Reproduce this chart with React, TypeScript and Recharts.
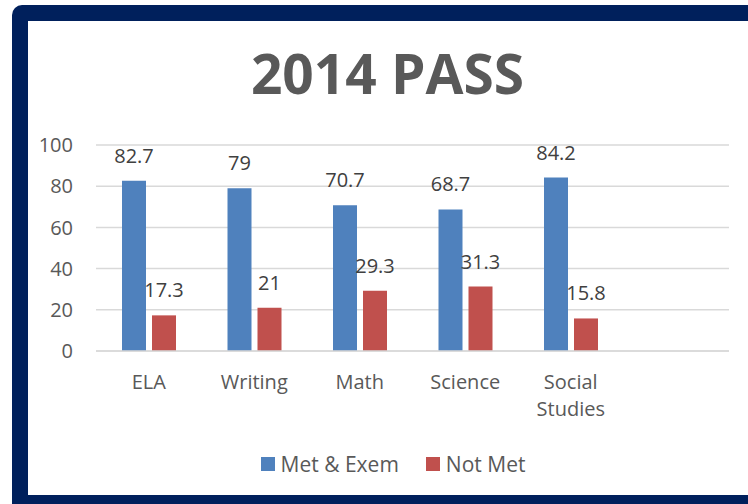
import { BarChart, Bar, XAxis, YAxis, CartesianGrid, Legend, LabelList, Text } from 'recharts';

const categories = ['ELA', 'Writing', 'Math', 'Science', 'Social Studies', ''];
const metExem = [82.7, 79, 70.7, 68.7, 84.2, null];
const notMet = [17.3, 21, 29.3, 31.3, 15.8, null];
const yTicks = [0, 20, 40, 60, 80, 100];

const data = categories.map((name, i) => ({ name, met: metExem[i], notMet: notMet[i] }));

const FONT = '"Open Sans", "Noto Sans", sans-serif';
const NAVY = '#00205C';
const BLUE = '#4F81BD';
const RED = '#C0504D';

const legendItems = [
  { label: 'Met & Exem', color: BLUE },
  { label: 'Not Met', color: RED },
];

function CategoryTick(props: any) {
  const { x, y, payload } = props;
  return (
    <Text
      x={x}
      y={y}
      width={90}
      textAnchor="middle"
      verticalAnchor="start"
      lineHeight={27}
      fill="#595959"
      fontSize={20}
      fontFamily={FONT}
    >
      {payload.value}
    </Text>
  );
}

function LegendContent() {
  return (
    <div style={{ display: 'flex', justifyContent: 'center', gap: 27, fontFamily: FONT, fontSize: 21, color: '#595959' }}>
      {legendItems.map((it) => (
        <div key={it.label} style={{ display: 'flex', alignItems: 'center' }}>
          <span style={{ width: 14, height: 14, background: it.color, display: 'inline-block', marginRight: 6 }} />
          {it.label}
        </div>
      ))}
    </div>
  );
}

export default function App() {
  return (
    <div style={{ position: 'fixed', left: 0, top: 0, width: 748, height: 504, overflow: 'hidden', background: '#fff' }}>
      {/* navy frame, right edge runs off the picture */}
      <div style={{ position: 'absolute', left: 12, top: 5, width: 800, height: 540, background: NAVY, borderRadius: 10 }} />
      <div style={{ position: 'absolute', left: 28, top: 21, width: 790, height: 474, background: '#fff' }} />
      <div
        style={{
          position: 'absolute',
          left: 0,
          width: 775,
          top: 45,
          textAlign: 'center',
          fontFamily: FONT,
          fontWeight: 700,
          fontSize: 55,
          lineHeight: 1,
          color: '#595959',
        }}
      >
        2014 PASS
      </div>
      <div style={{ position: 'absolute', left: 0, top: 0 }}>
        <BarChart
          width={748}
          height={504}
          data={data}
          margin={{ top: 145, right: 19, bottom: 65, left: 36 }}
          barGap={6}
          barSize={24}
        >
          <CartesianGrid vertical={false} stroke="#D9D9D9" strokeWidth={1.5} />
          <XAxis
            dataKey="name"
            axisLine={{ stroke: '#D9D9D9', strokeWidth: 1.5 }}
            tickLine={false}
            tickMargin={18}
            height={60}
            interval={0}
            tick={<CategoryTick />}
          />
          <YAxis
            domain={[0, 100]}
            ticks={yTicks}
            width={60}
            axisLine={false}
            tickLine={false}
            tickMargin={17}
            tick={{ fill: '#595959', fontSize: 20, fontFamily: FONT }}
          />
          <Legend
            verticalAlign="bottom"
            content={<LegendContent />}
            wrapperStyle={{ top: 450, left: 19, width: 748 }}
          />
          <Bar dataKey="met" fill={BLUE} isAnimationActive={false}>
            <LabelList dataKey="met" position="top" offset={18} fill="#404040" fontSize={20} fontFamily={FONT} />
          </Bar>
          <Bar dataKey="notMet" fill={RED} isAnimationActive={false}>
            <LabelList dataKey="notMet" position="top" offset={18} fill="#404040" fontSize={20} fontFamily={FONT} />
          </Bar>
        </BarChart>
      </div>
    </div>
  );
}
